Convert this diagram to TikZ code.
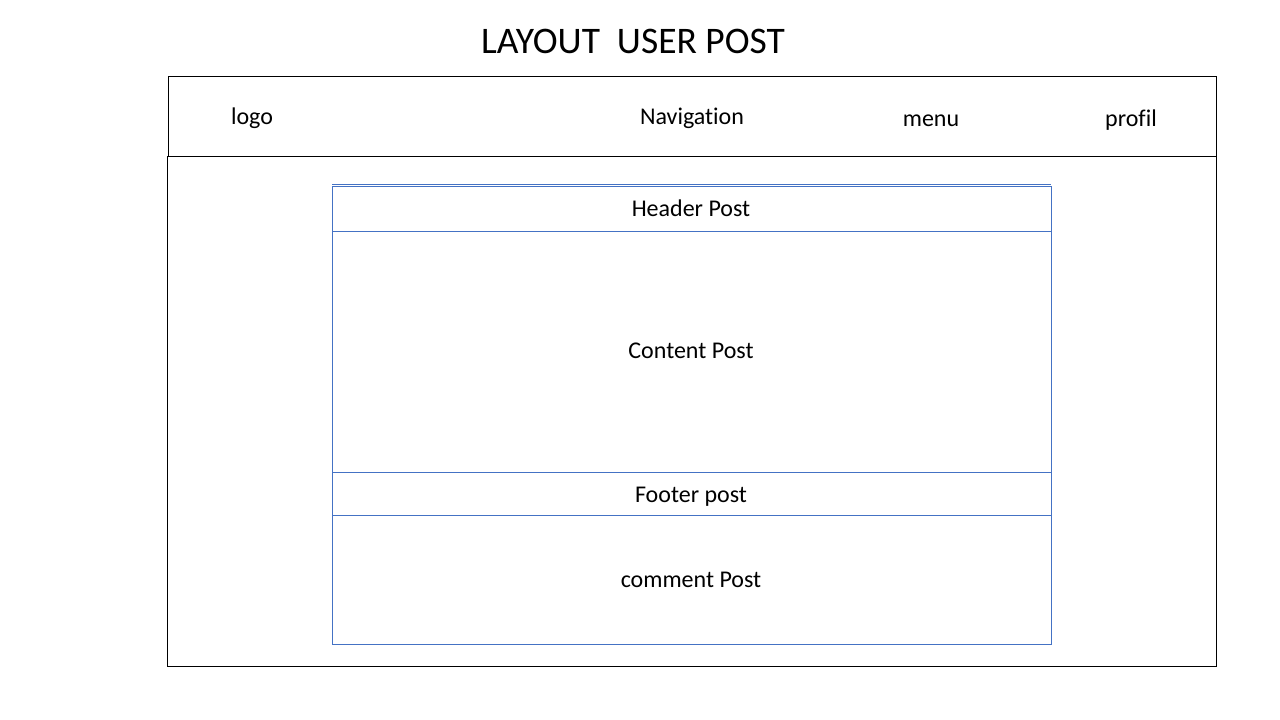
\documentclass[tikz,border=0pt]{standalone}
\usepackage{fontspec}
\setmainfont[Ligatures={NoCommon}]{Carlito}
\definecolor{postblue}{RGB}{68,114,196}
\begin{document}
\begin{tikzpicture}[x=1pt,y=-1pt,
  lbl/.style={font=\fontsize{24}{28}\selectfont, inner sep=0pt, anchor=base},
  frame/.style={draw=black, line width=1pt},
  postbox/.style={draw=postblue, line width=1pt}]
\useasboundingbox (0,0) rectangle (1280,720);
\fill[white] (0,0) rectangle (1280,720);
\node[font=\fontsize{37.5}{44}\selectfont, inner sep=0pt, anchor=base] (title) at (633,53) {LAYOUT\ \ USER POST};
% page frame
\draw[frame] (167,156) rectangle (1216,666);
\draw[frame] (168,76) rectangle (1216,156);
\node[lbl] (logo) at (252,124) {logo};
\node[lbl] (nav) at (692,124) {Navigation};
\node[lbl] (menu) at (931,126) {menu};
\node[lbl] (profil) at (1131,126) {profil};
% post
\draw[postbox] (332,184) -- (1051,184);
\draw[postbox] (332,186) rectangle (1051,644);
\draw[postbox] (332,231) -- (1051,231);
\draw[postbox] (332,472) -- (1051,472);
\draw[postbox] (332,515) -- (1051,515);
\node[lbl] (hp) at (691,216) {Header Post};
\node[lbl] (cp) at (691,358) {Content Post};
\node[lbl] (fp) at (691,502) {Footer post};
\node[lbl] (cm) at (691,587) {comment Post};
\end{tikzpicture}
\end{document}
